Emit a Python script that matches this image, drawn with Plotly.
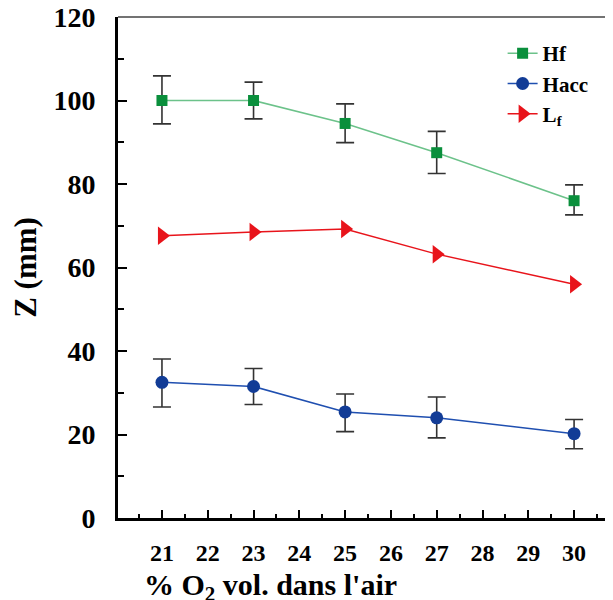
import plotly.graph_objects as go

o2 = [21, 23, 25, 27, 30]
hf = [100.0, 100.0, 94.5, 87.5, 76.0]
hf_err_plus = [5.9, 4.4, 4.7, 5.1, 3.8]
hf_err_minus = [5.6, 4.4, 4.6, 5.0, 3.4]
hacc = [32.5, 31.5, 25.4, 24.0, 20.2]
hacc_err_plus = [5.6, 4.3, 4.3, 5.0, 3.4]
hacc_err_minus = [5.9, 4.3, 4.7, 4.8, 3.6]
lf = [67.6, 68.5, 69.2, 63.2, 56.0]
x_ticks = [21, 22, 23, 24, 25, 26, 27, 28, 29, 30]
y_ticks = [0, 20, 40, 60, 80, 100, 120]

FONT = "Liberation Serif, Times New Roman, serif"
err_style = dict(type="data", symmetric=False, color="#333333", thickness=1.6, width=9)

fig = go.Figure()
fig.add_trace(go.Scatter(
    x=o2, y=hf, name="Hf", mode="lines+markers",
    line=dict(color="#6cc28a", width=1.5),
    marker=dict(symbol="square", size=11, color="#0a8f3c"),
    error_y=dict(array=hf_err_plus, arrayminus=hf_err_minus, **err_style),
))
fig.add_trace(go.Scatter(
    x=o2, y=hacc, name="Hacc", mode="lines+markers",
    line=dict(color="#1f4fb0", width=1.5),
    marker=dict(symbol="circle", size=13, color="#123c96"),
    error_y=dict(array=hacc_err_plus, arrayminus=hacc_err_minus, **err_style),
))
fig.add_trace(go.Scatter(
    x=o2, y=lf, name="L<sub>f</sub>", mode="lines+markers",
    line=dict(color="#e8141b", width=1.5),
    marker=dict(symbol="triangle-right", size=16, color="#e8141b"),
))

fig.update_layout(
    width=605, height=592,
    margin=dict(l=110, r=0, t=9, b=82),
    paper_bgcolor="white", plot_bgcolor="white",
    font=dict(family=FONT, color="black", weight="bold"),
    showlegend=True,
    legend=dict(x=0.777, y=0.968, xanchor="left", yanchor="top",
                font=dict(size=21, family=FONT, weight="bold"),
                bgcolor="rgba(0,0,0,0)"),
    xaxis=dict(
        range=[20.04, 30.85], tickvals=x_ticks, ticks="inside", ticklen=8,
        tickwidth=2, tickcolor="black", showline=True, linewidth=3, linecolor="black",
        showgrid=False, zeroline=False, automargin=False,
        minor=dict(dtick=0.5, tick0=20, ticks="inside", ticklen=4, tickwidth=2, tickcolor="black"),
        tickfont=dict(size=24, family=FONT, weight="bold"),
        ticklabelstandoff=11,
    ),
    yaxis=dict(
        range=[0, 120], tickvals=y_ticks, ticks="inside", ticklen=9,
        tickwidth=2, tickcolor="black", showline=True, linewidth=3, linecolor="black",
        showgrid=False, zeroline=False, automargin=False,
        minor=dict(dtick=10, tick0=0, ticks="inside", ticklen=6, tickwidth=2, tickcolor="black"),
        tickfont=dict(size=28, family=FONT, weight="bold"),
        ticklabelstandoff=14,
        ticklabeloverflow="allow",
        title=dict(text="Z (mm)", font=dict(size=31, family=FONT, weight="bold"), standoff=8),
    ),
    shapes=[dict(type="line", xref="paper", yref="paper", x0=0, x1=1, y0=1, y1=1,
                 line=dict(color="#444444", width=1.5))],
    annotations=[dict(text="% O<sub>2</sub> vol. dans l'air", xref="paper", yref="paper",
                      x=(270 - 118) / 495, y=-0.137, xanchor="center", yanchor="middle",
                      showarrow=False, font=dict(size=30, family=FONT, weight="bold"))],
)

fig.write_html("out.html")
